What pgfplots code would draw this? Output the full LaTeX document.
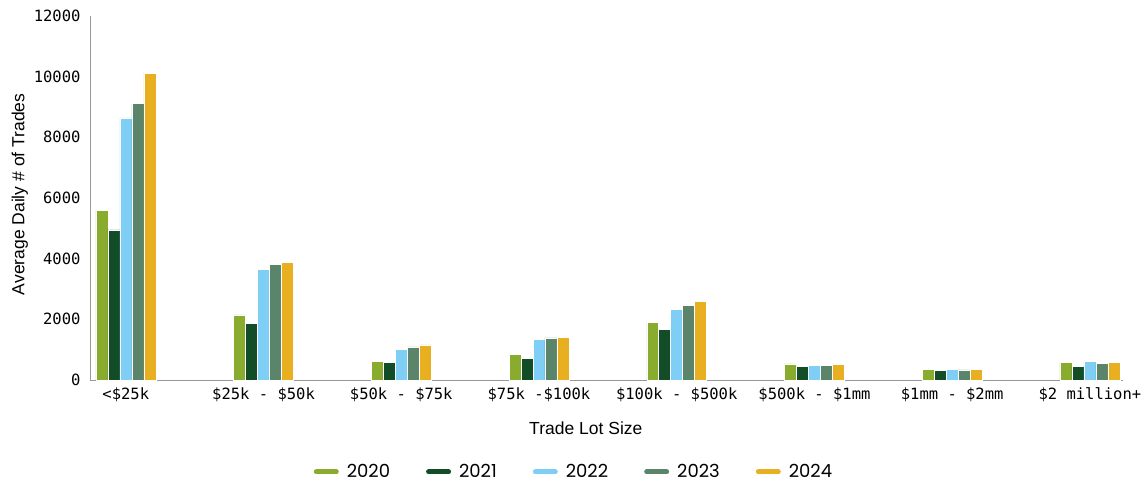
\documentclass[border=0pt]{standalone}
\usepackage{fontspec}
\setmainfont{Liberation Sans}
\newfontfamily\monofont{DejaVu Sans Mono}
\newfontfamily\legfont{Poppins}
\usepackage{pgfplots}
\pgfplotsset{compat=1.18}
\definecolor{cA}{HTML}{8AAC2E}
\definecolor{cB}{HTML}{124D28}
\definecolor{cC}{HTML}{7FCEF5}
\definecolor{cD}{HTML}{5B856A}
\definecolor{cE}{HTML}{E8B021}
\pgfplotsset{lineleg/.style={legend image code/.code={\draw[##1,line width=5pt,line cap=round] (2.5pt,0pt) -- (22.5pt,0pt);}}}
\begin{document}
\begin{tikzpicture}
\useasboundingbox (0,0) rectangle (1148pt,482pt);
\begin{axis}[
  at={(90pt,102pt)}, anchor=south west,
  scale only axis, width=1033pt, height=364pt,
  xmin=-0.26, xmax=7.24, ymin=0, ymax=12000,
  xtick={0,...,7},
  xticklabels={<\$25k, \$25k - \$50k, \$50k - \$75k, \$75k -\$100k, \$100k - \$500k, \$500k - \$1mm, \$1mm - \$2mm, \$2 million+},
  ytick={0,2000,...,12000},
  scaled y ticks=false,
  yticklabel={\pgfmathprintnumber[fixed,precision=0,1000 sep={}]{\tick}},
  axis x line=bottom, axis y line=left,
  axis line style={-, draw=gray!80, line width=0.8pt},
  major tick length=0pt, tick style={draw=none},
  /pgf/number format/assume math mode=true,
  /pgf/number format/1000 sep={},
  ticklabel style={font=\monofont\fontsize{15.5}{18}\selectfont},
  yticklabel style={xshift=-6pt},
  xticklabel style={yshift=-4pt},
  xlabel={Trade Lot Size},
  ylabel={Average Daily \# of Trades},
  label style={font=\fontsize{17.5}{20}\selectfont},
  xlabel style={at={(axis description cs:0.48,-0.132)}, anchor=center},
  ylabel style={at={(axis description cs:-0.068,0.51)}, anchor=center},
  legend style={at={(0.4685,-0.2525)}, anchor=center, draw=none, fill=none,
    legend columns=5, font=\legfont\fontsize{18}{21}\selectfont,
    /tikz/every even column/.append style={column sep=34pt}},
  legend cell align=left,
]
\addlegendimage{lineleg, cA}
\addlegendimage{lineleg, cB}
\addlegendimage{lineleg, cC}
\addlegendimage{lineleg, cD}
\addlegendimage{lineleg, cE}
\legend{\hspace{6pt}2020,\hspace{6pt}2021,\hspace{6pt}2022,\hspace{6pt}2023,\hspace{6pt}2024}
\addplot[ybar, bar width=0.087, bar shift=-0.174, fill=cA, draw=white, line width=0.5pt, forget plot] coordinates {
(0,5590) (1,2145) (2,605) (3,835) (4,1900) (5,530) (6,360) (7,585)};
\addplot[ybar, bar width=0.087, bar shift=-0.087, fill=cB, draw=white, line width=0.5pt, forget plot] coordinates {
(0,4950) (1,1870) (2,580) (3,715) (4,1660) (5,450) (6,310) (7,440)};
\addplot[ybar, bar width=0.087, bar shift=0, fill=cC, draw=white, line width=0.5pt, forget plot] coordinates {
(0,8640) (1,3650) (2,1020) (3,1330) (4,2340) (5,470) (6,340) (7,625)};
\addplot[ybar, bar width=0.087, bar shift=0.087, fill=cD, draw=white, line width=0.5pt, forget plot] coordinates {
(0,9110) (1,3800) (2,1090) (3,1385) (4,2450) (5,470) (6,330) (7,560)};
\addplot[ybar, bar width=0.087, bar shift=0.174, fill=cE, draw=white, line width=0.5pt, forget plot] coordinates {
(0,10120) (1,3890) (2,1155) (3,1410) (4,2600) (5,515) (6,350) (7,580)};
\end{axis}
\end{tikzpicture}
\end{document}
